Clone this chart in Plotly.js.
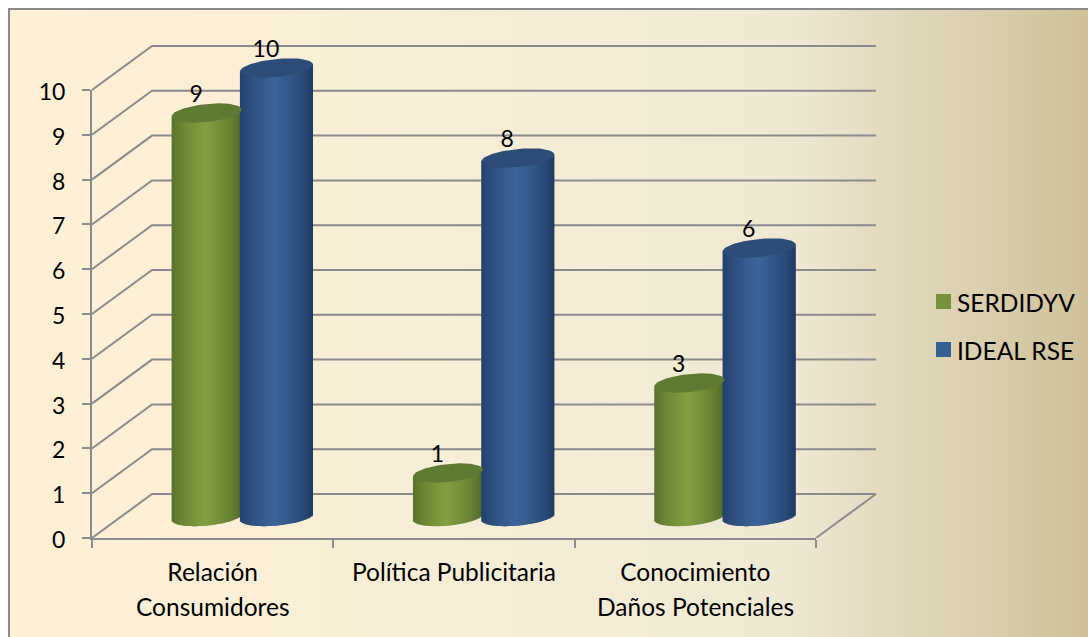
<!DOCTYPE html>
<html>
<head>
<meta charset="utf-8">
<script src="https://cdn.plot.ly/plotly-3.0.1.min.js"></script>
<style>
html,body{margin:0;padding:0;background:#fff;overflow:hidden}
#bg{position:absolute;left:8px;top:8px;width:1080px;height:629px;border-left:2px solid #8a8a8a;border-top:2px solid #8a8a8a;box-sizing:border-box;
background:linear-gradient(90deg,#FEF0D5 0%,#F7EED7 40%,#EFE9D4 72%,#E3DAC0 81%,#DACFAE 90%,#CEC19A 100%)}
#chart{position:absolute;left:0;top:0;width:1088px;height:637px}
</style>
</head>
<body>
<div id="bg"></div>
<div id="chart"></div>
<script>
// ---- data
const categories = ['Relación', 'Política Publicitaria', 'Conocimiento'];
const categorySecondLines = ['Consumidores', '', 'Daños Potenciales'];
const seriesNames = ['SERDIDYV', 'IDEAL RSE'];
const serdidyv = [9, 1, 3];
const idealRse = [10, 8, 6];
const yTicks = [0, 1, 2, 3, 4, 5, 6, 7, 8, 9, 10];

// ---- styles and geometry (pixels on the 1088x637 page)
const plotLeft = 92, plotRight = 816, plotTop = 90, plotBottom = 538;  // front axes
const boxRight = 1000, boxTop = 20;                                    // wider box for the 3D drawing
const unitX = (plotRight - plotLeft) / categories.length;   // px per category
const unitY = (plotBottom - plotTop) / 10;                  // px per value unit
const wallDX = 60 / unitX, wallDY = 44 / unitY;             // depth of the back wall
const baseDY = 21.5 / unitY, capDY = 20 / unitY, capScale = 45 / unitY;
const gridColor = '#8b8b8b';
const font = 'Lato, "Open Sans", sans-serif';
const fontSize = 24.5, digitSize = 23;
const cyl = [
  {name: seriesNames[0], values: serdidyv, dx: 114.6 - unitX / 2, half: 35,
   edge: [82, 104, 42], mid: [131, 160, 65], top: '#5F7A33', swatch: '#76923C'},
  {name: seriesNames[1], values: idealRse, dx: 184.4 - unitX / 2, half: 36.5,
   edge: [31, 58, 98], mid: [60, 100, 153], top: '#2D4C78', swatch: '#376092'}
];
const ellipseB = 9, ellipseShear = 3.5;   // px
const capY = v => v * capScale + capDY;

function mix(a, b, k) {
  return 'rgb(' + a.map((v, i) => Math.round(v + (b[i] - v) * k)).join(',') + ')';
}

const traces = [];

// category axis holder
traces.push({type: 'scatter', mode: 'markers', x: categories, y: serdidyv, xaxis: 'x', yaxis: 'y',
  marker: {opacity: 0}, hoverinfo: 'skip', showlegend: false});

// back wall, side wall and floor
const gx = [], gy = [];
yTicks.forEach(v => {
  gx.push(-0.5, -0.5 + wallDX, 2.5 + wallDX, null);
  gy.push(v, v + wallDY, v + wallDY, null);
});
gx.push(2.5, 2.5 + wallDX); gy.push(0, wallDY);
traces.push({type: 'scatter', mode: 'lines', x: gx, y: gy, xaxis: 'x2', yaxis: 'y2',
  line: {color: gridColor, width: 2}, hoverinfo: 'skip', showlegend: false});

// cylinders
cyl.forEach(c => {
  const stripPx = 1.5;
  const n = Math.round(2 * c.half / stripPx);
  const step = 2 * c.half / n;
  const bx = [], by = [], bb = [], bo = [], bw = [], bc = [];
  categories.forEach((cat, i) => {
    for (let s = 0; s < n; s++) {
      const t = -1 + (2 * (s + 0.5)) / n;
      const bottomPx = ellipseB * Math.sqrt(1 - t * t) - ellipseShear * t;
      const base = baseDY - bottomPx / unitY;
      const top = capY(c.values[i]) + ellipseShear * t / unitY;
      const k = Math.pow(Math.max(0, 1 - Math.abs(t + 0.05)), 0.65);
      bx.push(i); bb.push(base); by.push(top - base);
      bo.push((c.dx + t * c.half - step / 2) / unitX);
      bw.push((s === n - 1 ? step : step * 2) / unitX);
      bc.push(mix(c.edge, c.mid, k));
    }
  });
  traces.push({type: 'bar', name: c.name, x: bx, y: by, base: bb, offset: bo, width: bw,
    xaxis: 'x3', yaxis: 'y3', marker: {color: bc, line: {width: 0}},
    hoverinfo: 'skip', showlegend: false});
});

// cylinder caps and value labels
cyl.forEach(c => {
  categories.forEach((cat, i) => {
    const ex = [], ey = [];
    for (let d = 0; d <= 72; d++) {
      const th = d * Math.PI / 36;
      ex.push(i + (c.dx + c.half * Math.cos(th)) / unitX);
      ey.push(capY(c.values[i]) - (ellipseB * Math.sin(th) - ellipseShear * Math.cos(th)) / unitY);
    }
    traces.push({type: 'scatter', mode: 'lines', x: ex, y: ey, xaxis: 'x3', yaxis: 'y3', fill: 'toself',
      fillcolor: c.top, line: {width: 0, color: c.top}, hoverinfo: 'skip', showlegend: false});
  });
});
cyl.forEach(c => {
  traces.push({type: 'scatter', mode: 'text', xaxis: 'x3', yaxis: 'y3',
    x: categories.map((cat, i) => i + (c.dx - 10.5) / unitX),
    y: c.values.map(v => capY(v) + 16.5 / unitY),
    text: c.values.map(String), textposition: 'middle center',
    textfont: {family: font, size: digitSize, color: '#000'},
    hoverinfo: 'skip', showlegend: false});
});

// legend and second lines of the category labels
const boxW = boxRight - plotLeft, boxH = plotBottom - boxTop;
const pxX = px => (px - plotLeft) / boxW;
const pxY = py => (plotBottom - py) / boxH;
const shapes = [], annotations = [];
const legendY = [301.5, 349.5];
cyl.forEach((c, i) => {
  shapes.push({type: 'rect', xref: 'paper', yref: 'paper',
    x0: pxX(936), x1: pxX(951), y0: pxY(legendY[i] - 7.5), y1: pxY(legendY[i] + 7.5),
    fillcolor: c.swatch, line: {width: 0}});
  annotations.push({xref: 'paper', yref: 'paper', x: pxX(957), y: pxY(legendY[i] + 1), text: c.name,
    showarrow: false, xanchor: 'left', yanchor: 'middle', borderpad: 0, borderwidth: 0,
    font: {family: font, size: fontSize, color: '#000'}});
});
categories.forEach((cat, i) => {
  if (categorySecondLines[i]) annotations.push({xref: 'x', yref: 'paper', x: cat, y: pxY(606),
    text: categorySecondLines[i], showarrow: false, xanchor: 'center', yanchor: 'middle',
    borderpad: 0, borderwidth: 0, font: {family: font, size: fontSize, color: '#000'}});
});

const wideX = {range: [-0.5, -0.5 + boxW / unitX], domain: [0, 1], type: 'linear', visible: false};
const wideY = {range: [0, boxH / unitY], domain: [0, 1], visible: false};
const layout = {
  width: 1088, height: 637,
  margin: {l: plotLeft, r: 1088 - boxRight, t: boxTop, b: 637 - plotBottom, pad: 0},
  paper_bgcolor: 'rgba(0,0,0,0)', plot_bgcolor: 'rgba(0,0,0,0)',
  barmode: 'overlay', showlegend: false, hovermode: false,
  xaxis: {type: 'category', categoryorder: 'array', categoryarray: categories, range: [-0.5, 2.5],
    domain: [0, (plotRight - plotLeft) / boxW], anchor: 'y',
    tickson: 'boundaries', ticks: 'outside', ticklen: 8, tickwidth: 2, tickcolor: gridColor,
    showline: true, linecolor: gridColor, linewidth: 2, showgrid: false, zeroline: false,
    ticklabelstandoff: 12, tickangle: 0, tickfont: {family: font, size: fontSize, color: '#000'}},
  yaxis: {range: [0, 10], domain: [0, (plotBottom - plotTop) / boxH], anchor: 'x',
    tickvals: yTicks, ticktext: yTicks.map(String), ticks: 'outside', ticklen: 8, tickwidth: 2,
    tickcolor: gridColor, showline: true, linecolor: gridColor, linewidth: 2, showgrid: false, zeroline: false,
    ticklabelstandoff: 12, ticklabelshift: 2, tickfont: {family: font, size: digitSize, color: '#000'}},
  xaxis2: Object.assign({anchor: 'y2'}, wideX), yaxis2: Object.assign({anchor: 'x2'}, wideY),
  xaxis3: Object.assign({anchor: 'y3'}, wideX), yaxis3: Object.assign({anchor: 'x3'}, wideY),
  shapes, annotations
};
Plotly.newPlot('chart', traces, layout, {displayModeBar: false, staticPlot: true});
</script>
</body>
</html>
